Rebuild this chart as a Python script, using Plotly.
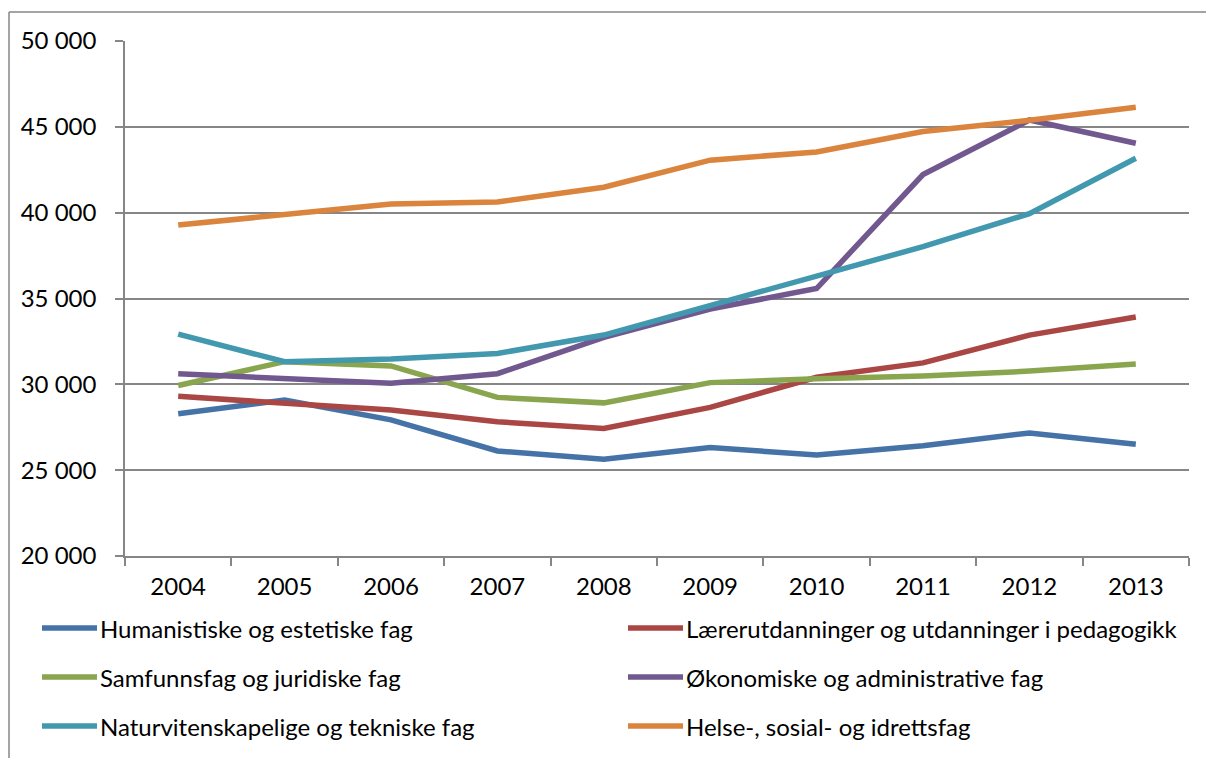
import plotly.graph_objects as go

years = ["2004", "2005", "2006", "2007", "2008", "2009", "2010", "2011", "2012", "2013"]

humanistiske = [28290, 29080, 27930, 26120, 25640, 26320, 25880, 26420, 27170, 26510]
laerer = [29300, 28880, 28500, 27820, 27430, 28660, 30410, 31250, 32870, 33920]
samfunn = [29930, 31320, 31070, 29240, 28920, 30100, 30320, 30480, 30770, 31180]
okonomi = [30610, 30320, 30060, 30620, 32740, 34390, 35580, 42220, 45400, 44040]
naturvit = [32920, 31320, 31480, 31800, 32870, 34560, 36260, 38020, 39940, 43170]
helse = [39280, 39860, 40500, 40620, 41480, 43060, 43540, 44730, 45380, 46140]

names = [
    "Humanistiske og estetiske fag",
    "Lærerutdanninger og utdanninger i pedagogikk",
    "Samfunnsfag og juridiske fag",
    "Økonomiske og administrative fag",
    "Naturvitenskapelige og tekniske fag",
    "Helse-, sosial- og idrettsfag",
]
series = [humanistiske, laerer, samfunn, okonomi, naturvit, helse]
colors = ["#4572A7", "#AA4643", "#89A54E", "#71588F", "#4198AF", "#DB843D"]

FONT = "Lato"
FS = 24
GRID = "#868686"

fig = go.Figure()
for name, vals, col in zip(names, series, colors):
    fig.add_trace(go.Scatter(
        x=years, y=vals, name=name, mode="lines",
        line=dict(color=col, width=5.5),
        showlegend=False,
    ))

# legend drawn in two columns below the plot area
W, H = 1206, 758
L, R, T, B = 125, 1189, 41, 556
pw, ph = R - L, B - T


def px_x(x):
    return (x - L) / pw


def px_y(y):
    return (B - y) / ph


shapes = []
annotations = []
col_x = [(42, 97, 98), (628, 683, 684)]
row_y = [628, 677, 726]
for i, (name, col) in enumerate(zip(names, colors)):
    x0, x1, xt = col_x[i % 2]
    yy = row_y[i // 2]
    shapes.append(dict(
        type="line", xref="paper", yref="paper",
        x0=px_x(x0), x1=px_x(x1), y0=px_y(yy), y1=px_y(yy),
        line=dict(color=col, width=5.5),
    ))
    annotations.append(dict(
        xref="paper", yref="paper", x=px_x(xt), y=px_y(yy),
        text=name, showarrow=False, xanchor="left", yanchor="middle",
        font=dict(family=FONT, size=FS, color="#000000"),
    ))

# outer frame (left and top edges)
shapes.append(dict(type="line", xref="paper", yref="paper",
                   x0=px_x(9), x1=px_x(9), y0=px_y(12), y1=px_y(760),
                   line=dict(color=GRID, width=1.5)))
shapes.append(dict(type="line", xref="paper", yref="paper",
                   x0=px_x(9), x1=px_x(1210), y0=px_y(12), y1=px_y(12),
                   line=dict(color=GRID, width=1.5)))

fig.update_layout(
    width=W, height=H,
    margin=dict(l=L, r=W - R, t=T, b=H - B),
    paper_bgcolor="white", plot_bgcolor="white",
    separators=", ",
    font=dict(family=FONT, size=FS, color="#000000"),
    shapes=shapes, annotations=annotations,
    showlegend=False,
)
fig.update_xaxes(
    type="category", tickson="boundaries", range=[-0.5, 9.5],
    ticks="outside", ticklen=8, tickwidth=1.5, tickcolor=GRID,
    showline=True, linecolor=GRID, linewidth=1.5,
    showgrid=False, ticklabelstandoff=8,
    tickfont=dict(family=FONT, size=FS),
)
fig.update_yaxes(
    range=[20000, 50000], dtick=5000, tickformat=",.0f",
    ticks="outside", ticklen=8, tickwidth=1.5, tickcolor=GRID,
    showline=True, linecolor=GRID, linewidth=1.5,
    showgrid=True, gridcolor=GRID, gridwidth=1.5,
    zeroline=False, ticklabelstandoff=14,
    tickfont=dict(family=FONT, size=FS),
)

fig.write_html("out.html")
